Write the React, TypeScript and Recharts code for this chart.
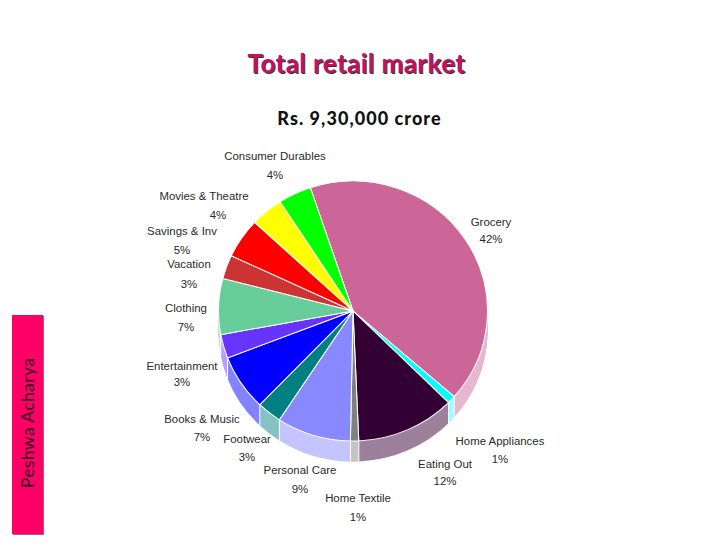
import React from 'react';
import { PieChart, Pie, Cell } from 'recharts';

const categories = [
  'Grocery',
  'Home Appliances',
  'Eating Out',
  'Home Textile',
  'Personal Care',
  'Footwear',
  'Books & Music',
  'Entertainment',
  'Clothing',
  'Vacation',
  'Savings & Inv',
  'Movies & Theatre',
  'Consumer Durables',
];
const shares = [42, 1, 12, 1, 9, 3, 7, 3, 7, 3, 5, 4, 4];
const topColors = [
  '#cc6699', '#00ffff', '#330033', '#808080', '#8888ff', '#008080', '#0000ff',
  '#6633ff', '#66cc99', '#cc3333', '#ff0000', '#ffff00', '#00ff00',
];
const sideColors = [
  '#e6b8d0', '#99ffff', '#9c809c', '#c4c4c4', '#c4c4ff', '#85c2c2', '#8484ff',
  '#b8a0ff', '#b3e6cc', '#e69999', '#ff8080', '#ffff80', '#80ff80',
];

const pieData = categories.map((name, i) => ({ name, value: shares[i] }));

// label centres on the page: [name x, percent x, name y, percent y]
const labelSpots = [
  [491, 491, 223, 240],
  [500, 500, 442, 460],
  [445, 445, 465, 482],
  [358, 358, 499, 518],
  [300, 300, 471, 490],
  [247, 247, 440, 458],
  [202, 202, 420, 438],
  [182, 182, 367, 383],
  [186, 186, 309, 328],
  [189, 189, 265, 285],
  [182, 182, 232, 251],
  [204, 218, 197, 216],
  [275, 275, 157, 176],
];

const WIDTH = 728;
const HEIGHT = 546;
const CX = 353;
const CY = 311;
const RADIUS = 132;
const DEPTH = 21;
const START = 108.5;
// the slide's pie is slightly wider than tall, recharts only draws circles
const SCALE_X = 1.019;
const SCALE_Y = 0.985;
const wallLayers = Array.from({ length: DEPTH }, (_, i) => DEPTH - i);

const unscaleX = (x: number) => CX + (x - CX) / SCALE_X;
const unscaleY = (y: number) => CY + (y - CY) / SCALE_Y;

const renderLabel = ({ index }: any) => {
  const [nameX, pctX, nameY, pctY] = labelSpots[index];
  return (
    <g key={categories[index]} fontFamily="Liberation Sans" fontSize={11.2} fill="#2a2a2a" textAnchor="middle">
      <text x={unscaleX(nameX)} y={unscaleY(nameY)} dominantBaseline="middle">{categories[index]}</text>
      <text x={unscaleX(pctX)} y={unscaleY(pctY)} dominantBaseline="middle">{shares[index]}%</text>
    </g>
  );
};

// white seam down the side wall at the end of each slice, front half only
const renderSeam = ({ index, cx, cy, outerRadius, endAngle }: any) => {
  const rad = (-endAngle * Math.PI) / 180;
  if (Math.sin(rad) <= 0) return <g key={index} />;
  const x = cx + outerRadius * Math.cos(rad);
  const y = cy + outerRadius * Math.sin(rad);
  return <line key={index} x1={x} y1={y} x2={x} y2={y + DEPTH} stroke="#ffffff" strokeWidth={1} />;
};

export default function App() {
  return (
    <div style={{ position: 'absolute', left: 0, top: 0, width: WIDTH, height: HEIGHT, background: '#fff', overflow: 'hidden' }}>
      <div
        style={{
          position: 'absolute',
          left: 0,
          width: 713,
          top: 47,
          textAlign: 'center',
          fontFamily: 'Lato',
          fontWeight: 700,
          fontSize: 26,
          lineHeight: '32px',
          letterSpacing: 0.45,
          color: '#c4105f',
          textShadow: '1px 1px 0 #333',
        }}
      >
        Total retail market
      </div>
      <div
        style={{
          position: 'absolute',
          left: 0,
          width: 719,
          top: 107,
          textAlign: 'center',
          fontFamily: 'Lato',
          fontWeight: 900,
          fontSize: 18,
          lineHeight: '22px',
          letterSpacing: 1.05,
          color: '#111',
        }}
      >
        Rs. 9,30,000 crore
      </div>

      <div
        style={{
          position: 'absolute',
          left: 12,
          top: 315,
          width: 31,
          height: 219,
          background: '#ff0066',
          boxShadow: '1px 1px 0 #a85c88',
        }}
      >
        <div
          style={{
            position: 'absolute',
            left: 16,
            top: 108,
            width: 219,
            textAlign: 'center',
            transform: 'translate(-50%, -50%) rotate(-90deg)',
            fontFamily: 'Lato',
            fontWeight: 500,
            fontSize: 17.5,
            lineHeight: '20px',
            letterSpacing: 0.35,
            color: '#3f0028',
          }}
        >
          Peshwa Acharya
        </div>
      </div>

      <div
        style={{
          position: 'absolute',
          left: 0,
          top: 0,
          transform: `scale(${SCALE_X}, ${SCALE_Y})`,
          transformOrigin: `${CX}px ${CY}px`,
        }}
      >
        <PieChart width={WIDTH} height={HEIGHT} margin={{ top: 0, right: 0, bottom: 0, left: 0 }}>
          {wallLayers.map((d) => (
            <Pie
              key={d}
              data={pieData}
              dataKey="value"
              cx={CX}
              cy={CY + d}
              outerRadius={RADIUS}
              startAngle={START}
              endAngle={START - 360}
              stroke="none"
              isAnimationActive={false}
            >
              {pieData.map((row, i) => (
                <Cell key={row.name} fill={sideColors[i]} />
              ))}
            </Pie>
          ))}
          <Pie
            data={pieData}
            dataKey="value"
            cx={CX}
            cy={CY}
            outerRadius={RADIUS}
            startAngle={START}
            endAngle={START - 360}
            fill="none"
            stroke="none"
            label={renderSeam}
            labelLine={false}
            isAnimationActive={false}
          />
          <Pie
            data={pieData}
            dataKey="value"
            cx={CX}
            cy={CY}
            outerRadius={RADIUS}
            startAngle={START}
            endAngle={START - 360}
            stroke="#ffffff"
            strokeWidth={1}
            label={renderLabel}
            labelLine={false}
            isAnimationActive={false}
          >
            {pieData.map((row, i) => (
              <Cell key={row.name} fill={topColors[i]} />
            ))}
          </Pie>
        </PieChart>
      </div>
    </div>
  );
}
